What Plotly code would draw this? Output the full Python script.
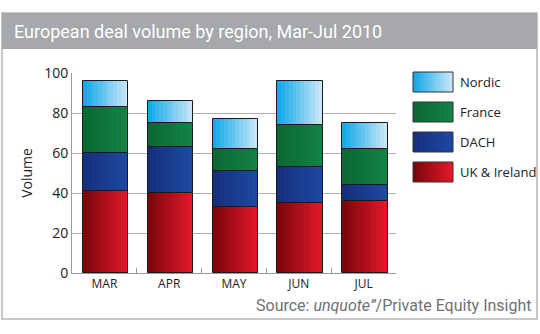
import plotly.graph_objects as go

months = ["MAR", "APR", "MAY", "JUN", "JUL"]
uk_ireland = [41, 40, 33, 35, 36]
dach = [19, 23, 18, 18, 8]
france = [23, 12, 11, 21, 18]
nordic = [13, 11, 15, 22, 13]
y_ticks = [0, 20, 40, 60, 80, 100]

series = [
    ("UK & Ireland", uk_ireland, (125, 6, 12), (226, 24, 42)),
    ("DACH", dach, (20, 48, 125), (30, 72, 160)),
    ("France", france, (10, 104, 52), (20, 130, 70)),
    ("Nordic", nordic, (20, 170, 230), (200, 230, 247)),
]

N = 12
bw = 0.70
fig = go.Figure()

def grad(c0, c1, t):
    return "rgb(%d,%d,%d)" % tuple(round(a + (b - a) * t) for a, b in zip(c0, c1))

base = [0] * len(months)
for name, vals, c0, c1 in series:
    for i in range(N):
        w = bw / N * (N - i) if i < N else 0
        fig.add_trace(go.Bar(
            x=months, y=vals, base=base, width=bw - i * bw / N,
            offset=-bw / 2 + 0.02 + i * bw / N,
            marker=dict(color=grad(c0, c1, i / (N - 1)), line=dict(width=0)),
            showlegend=False, hoverinfo="skip"))
    fig.add_trace(go.Bar(
        x=months, y=vals, base=base, width=bw, offset=-bw / 2 + 0.02,
        marker=dict(color="rgba(0,0,0,0)", line=dict(color="#1a1a1a", width=1)),
        name=name, showlegend=False))
    base = [b + v for b, v in zip(base, vals)]

shapes = [
    dict(type="rect", xref="paper", yref="paper", x0=-70/324, x1=(537-72)/324,
         y0=(273-319)/200, y1=(273-13)/200, line=dict(color="#b5b6b8", width=1.5),
         fillcolor="rgba(0,0,0,0)", layer="below"),
    dict(type="rect", xref="paper", yref="paper", x0=-70/324, x1=(537-72)/324,
         y0=(273-49)/200, y1=(273-13)/200, line=dict(width=0),
         fillcolor="#a6a8ab", layer="below"),
]
annotations = [
    dict(text="European deal volume by region, Mar-Jul 2010", xref="paper", yref="paper",
         x=(12-72)/324, y=(273-31)/200, xanchor="left", yanchor="middle", showarrow=False,
         font=dict(family="Roboto, sans-serif", size=18, color="white")),
    dict(text="Source: <i>unquote\u201d</i>/Private Equity Insight", xref="paper", yref="paper",
         x=(534-72)/324, y=(273-305)/200, xanchor="right", yanchor="middle", showarrow=False,
         font=dict(family="Roboto, sans-serif", size=16, color="#707174")),
]
# legend (top to bottom: Nordic, France, DACH, UK & Ireland)
for k, (name, vals, c0, c1) in enumerate(reversed(series)):
    top = 72 + k * 30
    for i in range(N):
        shapes.append(dict(type="rect", xref="paper", yref="paper",
                           x0=(413 + i * 40 / N - 72) / 324, x1=(453 - 72) / 324,
                           y0=(273 - top - 20) / 200, y1=(273 - top) / 200,
                           line=dict(width=0), fillcolor=grad(c0, c1, i / (N - 1))))
    shapes.append(dict(type="rect", xref="paper", yref="paper",
                       x0=(413 - 72) / 324, x1=(453 - 72) / 324,
                       y0=(273 - top - 20) / 200, y1=(273 - top) / 200,
                       line=dict(color="#333", width=1), fillcolor="rgba(0,0,0,0)"))
    annotations.append(dict(text=name, xref="paper", yref="paper",
                            x=(458 - 72) / 324, y=(273 - top - 10) / 200,
                            xanchor="left", yanchor="middle", showarrow=False,
                            font=dict(family="Open Sans, sans-serif", size=13, color="#222")))

fig.update_layout(
    width=540, height=334,
    margin=dict(l=72, r=144, t=73, b=61),
    paper_bgcolor="white", plot_bgcolor="white",
    barmode="overlay", bargap=0,
    shapes=shapes, annotations=annotations,
    font=dict(family="Open Sans, sans-serif", color="#222"),
    xaxis=dict(type="category", tickson="boundaries", ticks="inside", ticklen=5,
               tickcolor="#999", showline=True, linecolor="#999", linewidth=1,
               showgrid=False, tickfont=dict(size=12), range=[-0.5, 4.5]),
    yaxis=dict(range=[0, 100], tickvals=y_ticks, showline=True, linecolor="#999",
               linewidth=1, gridcolor="#b0b0b0", gridwidth=1, zeroline=False,
               ticks="", tickfont=dict(size=14), title=dict(text="Volume", font=dict(size=14), standoff=8)),
)

fig.write_html("out.html")
